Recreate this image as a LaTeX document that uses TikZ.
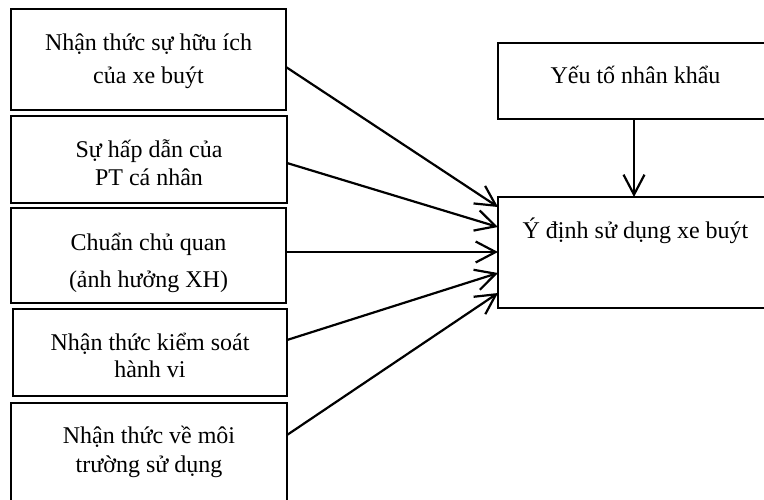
\documentclass[tikz,border=0pt]{standalone}
\usepackage{fontspec}
\setmainfont{Liberation Serif}
\usetikzlibrary{arrows.meta}
\tikzset{
  box/.style={draw=black, line width=2pt, inner sep=0pt, outer sep=0pt},
  txt/.style={anchor=base, inner sep=0pt, font=\fontsize{24}{28}\selectfont},
  conn/.style={line width=2.2pt, -{Straight Barb[length=20pt,width=21pt]}}
}
\begin{document}
\begin{tikzpicture}[x=1pt,y=-1pt]
\useasboundingbox (0,0) rectangle (764,499);
\clip (0,0) rectangle (764,499);
% left boxes
\node[box, minimum width=275pt, minimum height=101pt] (b1) at (148.5,59.5) {};
\node[box, minimum width=276pt, minimum height=87pt] (b2) at (149,159.5) {};
\node[box, minimum width=275pt, minimum height=95pt] (b3) at (148.5,255.5) {};
\node[box, minimum width=274pt, minimum height=87pt] (b4) at (150,352.5) {};
\node[box, minimum width=276pt, minimum height=120pt] (b5) at (149,463) {};
% right boxes
\node[box, minimum width=275pt, minimum height=76pt] (dem) at (635.5,81) {};
\node[box, minimum width=275pt, minimum height=111pt] (tgt) at (635.5,252.5) {};
% texts
\node[txt] (t1a) at (148.5,50) {Nhận thức sự hữu ích};
\node[txt] (t1b) at (148.5,83) {của xe buýt};
\node[txt] (t2a) at (149,157) {Sự hấp dẫn của};
\node[txt] (t2b) at (149,185) {PT cá nhân};
\node[txt] (t3a) at (148.5,250) {Chuẩn chủ quan};
\node[txt] (t3b) at (148.5,287) {(ảnh hưởng XH)};
\node[txt] (t4a) at (150,350) {Nhận thức kiểm soát};
\node[txt] (t4b) at (150,377.5) {hành vi};
\node[txt] (t5a) at (149,443) {Nhận thức về môi};
\node[txt] (t5b) at (149,472) {trường sử dụng};
\node[txt] (tdem) at (635.5,83) {Yếu tố nhân khẩu};
\node[txt] (ttgt) at (635.5,238) {Ý định sử dụng xe buýt};
% connectors
\draw[conn] ([yshift=-7.5pt]b1.east) -- ([yshift=45.5pt]tgt.west);
\draw[conn] ([yshift=-3.5pt]b2.east) -- ([yshift=25.5pt]tgt.west);
\draw[conn] ([yshift=3.5pt]b3.east) -- ([yshift=0.5pt]tgt.west);
\draw[conn] ([yshift=12.5pt]b4.east) -- ([yshift=-20.5pt]tgt.west);
\draw[conn] ([yshift=28pt]b5.east) -- ([yshift=-40.5pt]tgt.west);
\draw[conn] ([xshift=-1.5pt]dem.south) -- ([xshift=-1.5pt]tgt.north);
\end{tikzpicture}
\end{document}
